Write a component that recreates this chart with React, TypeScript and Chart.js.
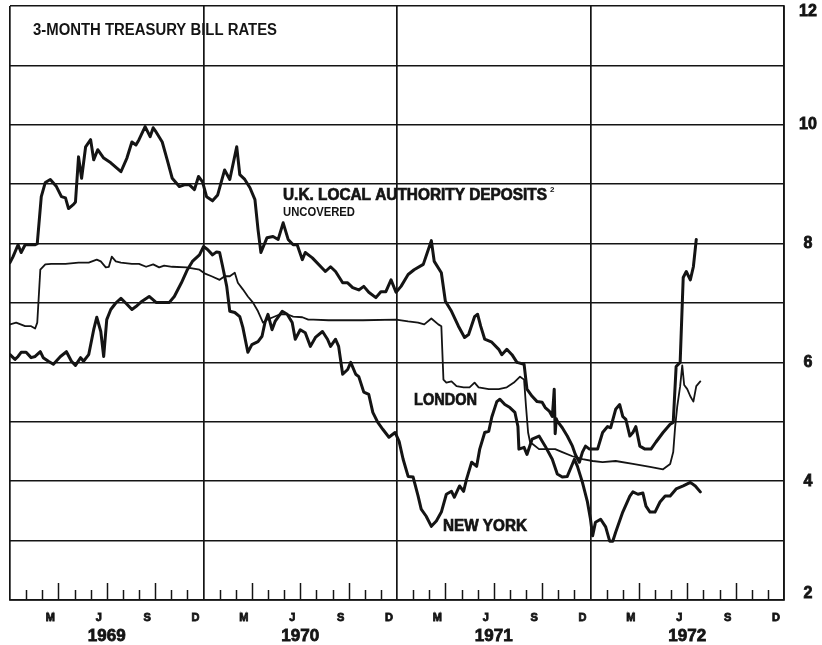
import React, { useEffect, useRef } from 'react';
import { Chart, registerables } from 'chart.js';

Chart.register(...registerables);

// x values are months since January 1969 (0 = start of Jan 1969)
const ukMonths = [0,0.19,0.5,0.69,0.94,1.56,1.69,1.94,2.19,2.5,2.88,3.19,3.44,3.63,3.94,4.06,4.25,4.44,4.69,5.0,5.19,5.44,5.81,6.25,6.88,7.25,7.56,7.81,8.0,8.38,8.69,8.88,9.06,9.44,9.75,10.06,10.5,10.81,11.13,11.44,11.69,11.94,12.19,12.56,12.88,13.31,13.63,14.06,14.25,14.56,14.88,15.19,15.38,15.56,15.94,16.31,16.63,16.94,17.25,17.56,17.81,18.13,18.31,18.75,19.56,19.88,20.19,20.63,20.94,21.25,21.63,21.94,22.25,22.69,23.0,23.31,23.63,23.94,24.25,24.69,25.06,25.63,25.88,26.13,26.31,26.75,27.0,27.38,27.81,28.19,28.44,28.81,29.0,29.19,29.44,29.88,30.31,30.5,30.81,31.13,31.44,31.88,32.06,32.38,32.69,33.0,33.19,33.44,33.63,33.69,33.75,33.81,33.88,33.94,34.25,34.56,34.88,35.06,35.31,35.5,35.69,35.94,36.44,36.75,37.06,37.25,37.56,37.81,38.0,38.19,38.44,38.63,38.81,39.06,39.38,39.75,40.06,40.5,40.94,41.13,41.31,41.56,41.75,41.94,42.19,42.38,42.56];
const ukRates = [7.68,7.78,7.98,7.85,7.98,7.98,8.0,8.79,9.03,9.08,8.96,8.79,8.77,8.59,8.66,8.7,9.46,9.1,9.63,9.75,9.41,9.58,9.44,9.36,9.21,9.44,9.71,9.66,9.75,9.97,9.8,9.95,9.88,9.71,9.41,9.1,8.96,8.99,8.99,8.91,9.13,9.04,8.79,8.72,8.82,9.24,9.08,9.63,9.16,9.08,8.94,8.74,8.24,7.85,8.1,8.12,8.07,8.35,8.07,7.98,7.98,7.73,7.85,7.76,7.53,7.61,7.53,7.34,7.34,7.26,7.22,7.28,7.18,7.09,7.19,7.19,7.39,7.18,7.28,7.48,7.56,7.65,7.85,8.05,7.7,7.51,7.03,6.86,6.61,6.42,6.47,6.77,6.81,6.61,6.39,6.34,6.22,6.13,6.22,6.13,6.0,5.97,5.55,5.43,5.34,5.33,5.24,5.18,5.09,5.3,5.55,4.8,5.05,5.01,4.9,4.76,4.59,4.45,4.32,4.49,4.59,4.54,4.54,4.82,4.92,4.9,5.21,5.29,5.09,5.04,4.76,4.82,4.92,4.59,4.54,4.54,4.66,4.82,4.96,4.99,5.93,6.0,7.43,7.53,7.39,7.61,8.07];

const londonMonths = [0,0.38,0.94,1.31,1.56,1.69,1.88,2.19,2.56,3.44,4.25,4.88,5.38,5.63,5.94,6.13,6.31,6.56,6.88,7.56,8.0,8.44,8.88,9.25,9.56,10.06,10.94,11.75,12.06,12.5,13.0,13.31,13.63,13.94,14.13,14.44,14.75,15.06,15.38,15.69,15.94,16.31,16.75,17.19,17.56,18.13,18.5,18.81,19.75,21.88,23.94,24.69,25.31,25.69,26.13,26.56,26.75,26.88,27.06,27.38,27.69,28.13,28.5,28.81,29.06,29.69,30.31,30.81,31.25,31.63,31.88,32.0,32.13,32.25,32.81,33.44,33.81,34.25,34.88,35.5,36.13,36.75,37.56,38.63,39.69,40.5,40.94,41.13,41.25,41.38,41.56,41.69,41.81,42.0,42.19,42.38,42.56,42.81];
const londonRates = [6.64,6.67,6.61,6.61,6.57,6.67,7.56,7.65,7.66,7.66,7.68,7.68,7.73,7.7,7.6,7.61,7.78,7.7,7.68,7.66,7.66,7.61,7.65,7.6,7.63,7.61,7.6,7.56,7.5,7.45,7.39,7.45,7.45,7.51,7.34,7.23,7.11,7.01,6.86,6.67,6.72,6.76,6.81,6.81,6.77,6.76,6.72,6.72,6.71,6.71,6.72,6.69,6.67,6.64,6.74,6.64,6.61,5.71,5.66,5.68,5.6,5.58,5.58,5.66,5.58,5.55,5.55,5.58,5.66,5.76,5.71,5.26,4.82,4.66,4.54,4.54,4.54,4.49,4.42,4.37,4.34,4.32,4.34,4.29,4.24,4.2,4.29,4.49,4.92,5.26,5.6,5.95,5.62,5.55,5.43,5.34,5.6,5.68];

const nyMonths = [0,0.31,0.5,0.69,1.0,1.31,1.56,1.88,2.06,2.38,2.69,3.13,3.5,3.81,4.06,4.38,4.56,4.88,5.19,5.38,5.63,5.81,6.0,6.25,6.56,6.88,7.25,7.56,7.81,8.19,8.63,9.06,9.44,9.88,10.19,10.63,11.0,11.31,11.75,12.0,12.25,12.56,12.81,13.0,13.19,13.44,13.63,13.94,14.25,14.44,14.75,15.0,15.38,15.63,15.81,16.0,16.25,16.44,16.88,17.19,17.5,17.69,18.0,18.31,18.63,18.94,19.38,19.69,19.88,20.19,20.38,20.63,20.94,21.13,21.44,21.63,21.94,22.25,22.5,22.81,23.13,23.5,23.88,24.13,24.38,24.69,25.0,25.31,25.5,25.81,26.13,26.44,26.75,27.06,27.38,27.56,27.88,28.13,28.31,28.63,28.94,29.13,29.44,29.69,29.88,30.19,30.38,30.69,31.0,31.31,31.5,31.56,31.88,32.06,32.38,32.81,33.19,33.63,33.94,34.25,34.56,34.88,35.0,35.19,35.5,35.81,36.0,36.13,36.31,36.63,36.94,37.19,37.38,37.56,38.0,38.44,38.63,38.94,39.25,39.44,39.69,40.0,40.31,40.63,40.94,41.31,41.75,42.19,42.5,42.81];
const nyRates = [6.13,6.05,6.1,6.17,6.17,6.08,6.1,6.18,6.08,6.02,5.97,6.1,6.18,6.02,5.95,6.08,6.02,6.13,6.55,6.76,6.52,6.1,6.72,6.89,7.0,7.08,6.98,6.89,6.94,7.03,7.11,7.01,7.01,7.01,7.11,7.34,7.56,7.7,7.81,7.95,7.9,7.81,7.86,7.85,7.61,7.28,6.86,6.84,6.77,6.59,6.17,6.3,6.35,6.44,6.67,6.81,6.55,6.69,6.86,6.81,6.67,6.39,6.55,6.5,6.27,6.42,6.52,6.39,6.27,6.39,6.27,5.8,5.88,6.0,5.8,5.76,5.5,5.46,5.16,4.99,4.87,4.74,4.82,4.67,4.37,4.08,4.07,3.75,3.53,3.41,3.24,3.33,3.48,3.78,3.83,3.73,3.92,3.83,4.03,4.32,4.25,4.54,4.82,4.84,5.08,5.34,5.38,5.29,5.24,5.16,4.92,4.54,4.57,4.45,4.71,4.76,4.59,4.37,4.12,4.07,4.08,4.29,4.37,4.25,3.98,3.65,3.36,3.08,3.31,3.36,3.23,2.99,2.99,3.14,3.48,3.75,3.82,3.78,3.8,3.58,3.48,3.48,3.65,3.75,3.75,3.87,3.92,3.98,3.92,3.82];

// axis labels
const yearBoundaries = [0, 12, 24, 36, 48];
const monthLabelPositions = [2.5, 5.5, 8.5, 11.5, 14.5, 17.5, 20.5, 23.5, 26.5, 29.5, 32.5, 35.5, 38.5, 41.5, 44.5, 47.5];
const monthLabels = ['M', 'J', 'S', 'D', 'M', 'J', 'S', 'D', 'M', 'J', 'S', 'D', 'M', 'J', 'S', 'D'];
const yearPositions = [6, 18, 30, 42];
const yearLabels = ['1969', '1970', '1971', '1972'];
const rateTicks = [2, 3, 4, 5, 6, 7, 8, 9, 10, 11, 12];
const rateLabelValues = [2, 4, 6, 8, 10, 12];
const rateLabels = ['2', '4', '6', '8', '10', '12'];

const INK = '#141414';
const FONT = "'Liberation Sans', Arial, Helvetica, sans-serif";

const tickMonths = Array.from({ length: 47 }, (_, i) => i + 1).filter((m) => m % 12 !== 0);

type Note = { text: string; x: number; y: number; w: number; font: string; heavy?: boolean };
const notes: Note[] = [
  { text: '3-MONTH TREASURY BILL RATES', x: 33, y: 31, w: 244, font: `bold 16px ${FONT}` },
  { text: 'U.K. LOCAL AUTHORITY DEPOSITS', x: 283, y: 196, w: 264, font: `bold 16px ${FONT}`, heavy: true },
  { text: '2', x: 550, y: 190, w: 8, font: `bold 8px ${FONT}` },
  { text: 'UNCOVERED', x: 283, y: 213, w: 72, font: `bold 12px ${FONT}` },
  { text: 'LONDON', x: 414, y: 401, w: 63, font: `bold 16px ${FONT}`, heavy: true },
  { text: 'NEW YORK', x: 443, y: 527, w: 84, font: `bold 16px ${FONT}`, heavy: true },
];

const decorPlugin = {
  id: 'decor',
  afterDatasetsDraw(chart: any) {
    const { ctx, chartArea, scales } = chart;
    const xs = scales.x;
    const ys = scales.y;
    ctx.save();
    ctx.strokeStyle = INK;
    ctx.lineWidth = 1.5;
    for (const m of tickMonths) {
      const px = Math.round(xs.getPixelForValue(m)) + 0.5;
      const len = m % 3 === 0 ? 17 : 10;
      ctx.beginPath();
      ctx.moveTo(px, chartArea.bottom);
      ctx.lineTo(px, chartArea.bottom - len);
      ctx.stroke();
    }
    ctx.fillStyle = INK;
    ctx.textBaseline = 'middle';
    ctx.textAlign = 'left';
    for (const n of notes) {
      ctx.font = n.font;
      ctx.fillText(n.text, n.x, n.y, n.w);
      if (n.heavy) {
        ctx.lineWidth = 0.7;
        ctx.strokeText(n.text, n.x, n.y, n.w);
      }
    }
    // right-hand rate labels, end labels kept inside the frame as in the original
    ctx.font = `bold 16px ${FONT}`;
    ctx.textAlign = 'center';
    ctx.lineWidth = 0.8;
    rateLabelValues.forEach((v, i) => {
      let py = ys.getPixelForValue(v);
      if (v === ys.max) py += 6;
      if (v === ys.min) py -= 6;
      const px = chartArea.right + 24;
      ctx.fillText(rateLabels[i], px, py);
      ctx.strokeText(rateLabels[i], px, py);
    });
    ctx.restore();
  },
};

function makeSeries(months: number[], rates: number[]) {
  return months.map((m, i) => ({ x: m, y: rates[i] }));
}

export default function App() {
  const canvasRef = useRef<HTMLCanvasElement | null>(null);

  useEffect(() => {
    const canvas = canvasRef.current;
    if (!canvas) return;
    const lineCommon = {
      pointRadius: 0,
      borderColor: INK,
      tension: 0,
      borderJoinStyle: 'round' as const,
      borderCapStyle: 'round' as const,
      fill: false,
    };
    const chart = new Chart(canvas, {
      type: 'line',
      data: {
        datasets: [
          { label: 'U.K. Local Authority Deposits', data: makeSeries(ukMonths, ukRates), borderWidth: 3, ...lineCommon },
          { label: 'London', data: makeSeries(londonMonths, londonRates), borderWidth: 1.8, ...lineCommon },
          { label: 'New York', data: makeSeries(nyMonths, nyRates), borderWidth: 3, ...lineCommon },
        ],
      },
      options: {
        animation: false,
        responsive: false,
        devicePixelRatio: 1,
        layout: { padding: { left: 10, top: 6, right: 0, bottom: 0 } },
        plugins: { legend: { display: false }, tooltip: { enabled: false }, title: { display: false } },
        scales: {
          x: {
            type: 'linear',
            min: 0,
            max: 48,
            position: 'bottom',
            weight: 0,
            afterBuildTicks: (s: any) => {
              s.ticks = yearBoundaries.map((v) => ({ value: v }));
            },
            ticks: { display: false },
            grid: { color: INK, lineWidth: 1.7, drawTicks: false },
            border: { display: true, color: INK, width: 1.7 },
            afterFit: (s: any) => {
              s.height = 0;
              s.paddingLeft = 0;
              s.paddingRight = 0;
            },
          },
          xm: {
            type: 'linear',
            min: 0,
            max: 48,
            position: 'bottom',
            weight: 1,
            afterBuildTicks: (s: any) => {
              s.ticks = monthLabelPositions.map((v) => ({ value: v }));
            },
            ticks: {
              autoSkip: false,
              maxRotation: 0,
              padding: 11,
              color: INK,
              textStrokeColor: INK,
              textStrokeWidth: 0.8,
              font: { family: FONT, size: 11, weight: 'bold' },
              callback: (_v: any, i: number) => monthLabels[i],
            },
            grid: { display: false, drawTicks: false },
            border: { display: false },
            afterFit: (s: any) => {
              s.height = 22;
              s.paddingLeft = 0;
              s.paddingRight = 0;
            },
          },
          xy: {
            type: 'linear',
            min: 0,
            max: 48,
            position: 'bottom',
            weight: 2,
            afterBuildTicks: (s: any) => {
              s.ticks = yearPositions.map((v) => ({ value: v }));
            },
            ticks: {
              autoSkip: false,
              maxRotation: 0,
              padding: 4,
              color: INK,
              textStrokeColor: INK,
              textStrokeWidth: 0.8,
              font: { family: FONT, size: 17, weight: 'bold' },
              callback: (_v: any, i: number) => yearLabels[i],
            },
            grid: { display: false, drawTicks: false },
            border: { display: false },
            afterFit: (s: any) => {
              s.height = 23;
              s.paddingLeft = 0;
              s.paddingRight = 0;
            },
          },
          y: {
            type: 'linear',
            min: 2,
            max: 12,
            position: 'right',
            afterBuildTicks: (s: any) => {
              s.ticks = rateTicks.map((v) => ({ value: v }));
            },
            ticks: { display: false },
            grid: { color: INK, lineWidth: 1.6, drawTicks: false },
            border: { display: true, color: INK, width: 1.7 },
            afterFit: (s: any) => {
              s.width = 38;
              s.paddingTop = 0;
              s.paddingBottom = 0;
            },
          },
        },
      },
      plugins: [decorPlugin],
    } as any);
    return () => chart.destroy();
  }, []);

  return (
    <div style={{ position: 'fixed', left: 0, top: 0, width: 822, height: 645, background: '#fff' }}>
      <canvas ref={canvasRef} width={822} height={645} style={{ display: 'block' }} />
    </div>
  );
}
